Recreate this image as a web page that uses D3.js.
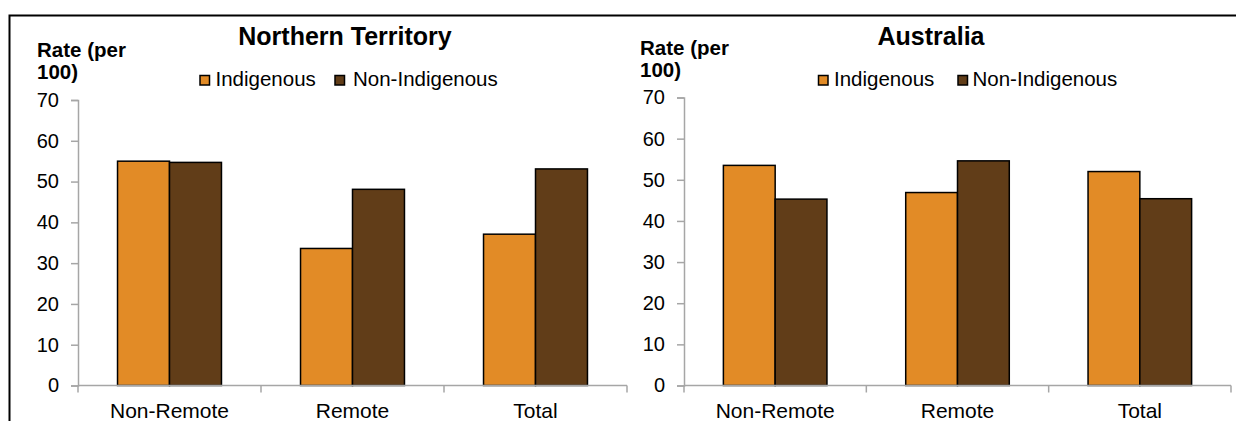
<!DOCTYPE html>
<html>
<head>
<meta charset="utf-8">
<script src="https://cdn.jsdelivr.net/npm/d3@7"></script>
<style>
  html, body { margin: 0; padding: 0; background: #fff; }
  svg { display: block; }
  text { font-family: "Liberation Sans", Arial, sans-serif; fill: #000; }
</style>
</head>
<body>
<svg id="chart" width="1236" height="421"></svg>
<script>
// ---- data ----
const categories = ["Non-Remote", "Remote", "Total"];
const seriesNames = ["Indigenous", "Non-Indigenous"];
const seriesColors = ["#E28B26", "#613D18"];
const ntIndigenous = [55.0, 33.6, 37.1];
const ntNonIndigenous = [54.7, 48.1, 53.1];
const ausIndigenous = [53.5, 46.9, 52.0];
const ausNonIndigenous = [45.3, 54.6, 45.4];
const yTicks = [0, 10, 20, 30, 40, 50, 60, 70];
const panelTitles = ["Northern Territory", "Australia"];
const yTitleLines = ["Rate (per", "100)"];

// ---- layout ----
const panels = [
  { title: panelTitles[0], values: [ntIndigenous, ntNonIndigenous],
    xRange: [78, 627], yRange: [385.5, 100], titleX: 345, titleY: 45,
    yTitleX: 37, yTitleY: [57, 79],
    legend: [{sq: 200, tx: 215.5}, {sq: 335, tx: 353}], legendY: 86 },
  { title: panelTitles[1], values: [ausIndigenous, ausNonIndigenous],
    xRange: [684, 1231], yRange: [385.5, 97.5], titleX: 931, titleY: 45,
    yTitleX: 640, yTitleY: [55, 77],
    legend: [{sq: 818.5, tx: 834}, {sq: 958, tx: 972.5}], legendY: 86 }
];

const svg = d3.select("#chart");
const axisColor = "#a6a6a6";

// outer frame (right and bottom outside view)
svg.append("rect")
  .attr("x", 9.5).attr("y", 15.5)
  .attr("width", 1300).attr("height", 500)
  .attr("fill", "none").attr("stroke", "#000").attr("stroke-width", 2);

panels.forEach(p => {
  const g = svg.append("g");
  const y = d3.scaleLinear().domain([0, 70]).range(p.yRange);
  const x0 = d3.scaleBand().domain(categories).range(p.xRange)
    .paddingInner(0.432).paddingOuter(0.216);
  const x1 = d3.scaleBand().domain(seriesNames).range([0, x0.bandwidth()]);

  // bars
  categories.forEach((c, ci) => {
    seriesNames.forEach((s, si) => {
      const v = p.values[si][ci];
      g.append("rect")
        .attr("x", x0(c) + x1(s))
        .attr("y", y(v))
        .attr("width", x1.bandwidth())
        .attr("height", y(0) - y(v))
        .attr("fill", seriesColors[si])
        .attr("stroke", "#000")
        .attr("stroke-width", 1.5);
    });
  });

  // y axis
  const yAxis = d3.axisLeft(y).tickValues(yTicks).tickSize(7).tickSizeOuter(7).tickPadding(12);
  const ya = g.append("g").attr("transform", `translate(${p.xRange[0]},0)`).call(yAxis);
  ya.select(".domain").attr("stroke", axisColor).attr("stroke-width", 1.5);
  ya.selectAll(".tick line").attr("stroke", axisColor).attr("stroke-width", 1.5);
  ya.selectAll(".tick text").style("font-size", "20px")
    .style("font-family", '"Liberation Sans", Arial, sans-serif').attr("fill", "#000");

  // x axis line + boundary ticks
  const y0 = y(0);
  const bounds = [p.xRange[0]].concat(categories.map(c => x0(c) - x0.step() * x0.paddingInner() / 2 + x0.step()));
  g.append("line").attr("x1", p.xRange[0]).attr("x2", p.xRange[1])
    .attr("y1", y0).attr("y2", y0).attr("stroke", axisColor).attr("stroke-width", 1.5);
  g.selectAll(".xtick").data(bounds).enter().append("line")
    .attr("x1", d => d).attr("x2", d => d).attr("y1", y0).attr("y2", y0 + 7)
    .attr("stroke", axisColor).attr("stroke-width", 1.5);
  g.selectAll(".xlab").data(categories).enter().append("text")
    .attr("x", d => x0(d) + x0.bandwidth() / 2)
    .attr("y", 417.5)
    .attr("text-anchor", "middle")
    .style("font-size", "21px")
    .text(d => d);

  // title
  g.append("text").attr("x", p.titleX).attr("y", p.titleY)
    .attr("text-anchor", "middle").style("font-size", "25px").style("font-weight", "bold")
    .text(p.title);

  // y title
  yTitleLines.forEach((t, i) => {
    g.append("text").attr("x", p.yTitleX).attr("y", p.yTitleY[i])
      .style("font-size", "20.5px").style("font-weight", "bold").text(t);
  });

  // legend
  seriesNames.forEach((s, si) => {
    const l = p.legend[si];
    g.append("rect").attr("x", l.sq).attr("y", p.legendY - 10.5)
      .attr("width", 9.5).attr("height", 9.5)
      .attr("fill", seriesColors[si]).attr("stroke", "#000").attr("stroke-width", 1.5);
    g.append("text").attr("x", l.tx).attr("y", p.legendY)
      .style("font-size", "20.5px").text(s);
  });
});
</script>
</body>
</html>
